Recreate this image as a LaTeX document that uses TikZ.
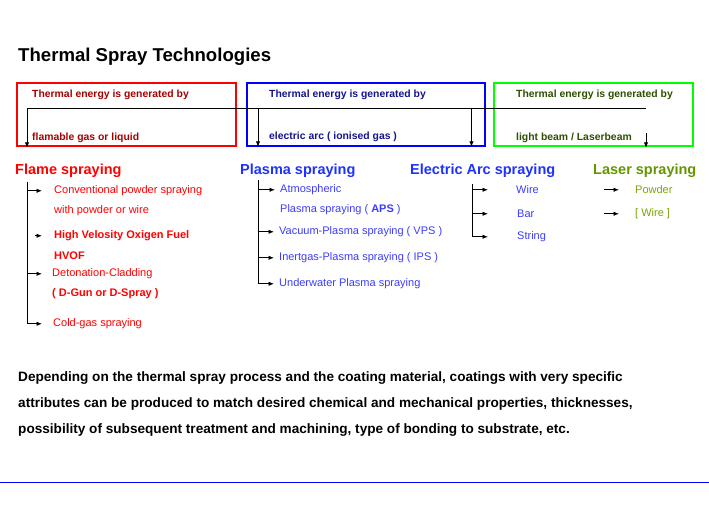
\documentclass[tikz,border=0pt]{standalone}
\usepackage{fontspec}
\setmainfont{Liberation Sans}
\usetikzlibrary{arrows.meta}
\definecolor{fred}{RGB}{255,0,0}
\definecolor{fblue}{RGB}{0,0,255}
\definecolor{fgreen}{RGB}{0,255,0}
\definecolor{tred}{RGB}{165,0,0}
\definecolor{tblue}{RGB}{20,20,140}
\definecolor{tgreen}{RGB}{45,80,0}
\definecolor{hblue}{RGB}{30,50,255}
\definecolor{iblue}{RGB}{60,60,255}
\definecolor{hgreen}{RGB}{100,150,0}
\definecolor{igreen}{RGB}{120,165,10}
\begin{document}
\begin{tikzpicture}[x=1pt,y=-1pt,
  every node/.style={inner sep=0pt, anchor=west, yshift=-1.8pt},
  title/.style={font=\fontsize{18.6}{20}\selectfont\bfseries},
  boxtxt/.style={font=\fontsize{10.4}{12}\selectfont\bfseries},
  head/.style={font=\fontsize{14.5}{16}\selectfont\bfseries},
  item/.style={font=\fontsize{11}{13}\selectfont},
  para/.style={font=\fontsize{13.6}{16}\selectfont\bfseries},
  arr/.style={-{Latex[length=5.5pt,width=4.5pt]}, line width=0.9pt, black},
  frame/.style={line width=2pt}]
\useasboundingbox (0,0) rectangle (709,510);

% title
\node[title] (title) at (18,55) {Thermal Spray Technologies};

% boxes
\draw[frame, fred] (17,83) rectangle (236,146);
\draw[frame, fblue] (247,83) rectangle (485,146);
\draw[frame, fgreen] (494,83) rectangle (693,146);

\node[boxtxt, tred] (r1) at (32,93) {Thermal energy is generated by};
\node[boxtxt, tred] (r2) at (32,136) {flamable gas or liquid};
\node[boxtxt, tblue] (b1) at (269,93) {Thermal energy is generated by};
\node[boxtxt, tblue] (b2) at (269,135) {electric arc ( ionised gas )};
\node[boxtxt, tgreen] (g1) at (516,93) {Thermal energy is generated by};
\node[boxtxt, tgreen] (g2) at (516,136) {light beam / Laserbeam};

% energy line and arrows
\coordinate (hl) at (27,107);
\coordinate (hr) at (646,107);
\coordinate (ra) at (27,146);
\coordinate (bla) at (258,107);
\coordinate (blb) at (258,145);
\coordinate (bra) at (471.5,107);
\coordinate (brb) at (471.5,145);
\coordinate (gra) at (646,131);
\coordinate (grb) at (646,146);
\draw[line width=0.9pt] (hl) -- (hr);
\draw[arr] (hl) -- (ra);
\draw[arr] (bla) -- (blb);
\draw[arr] (bra) -- (brb);
\draw[arr] (gra) -- (grb);

% headings
\node[head, fred] (flame) at (15,169) {Flame spraying};
\node[head, hblue] (plasma) at (240,169) {Plasma spraying};
\node[head, hblue] (arc) at (410,169) {Electric Arc spraying};
\node[head, hgreen] (laser) at (593,169) {Laser spraying};

% flame items
\node[item, fred] (f1) at (54,189) {Conventional powder spraying};
\node[item, fred] (f1b) at (54,209) {with powder or wire};
\node[item, fred, font=\fontsize{11}{13}\selectfont\bfseries] (f2) at (54,234) {High Velosity Oxigen Fuel};
\node[item, fred, font=\fontsize{11}{13}\selectfont\bfseries] (f2b) at (54,254) {HVOF};
\node[item, fred] (f3) at (52,272) {Detonation-Cladding};
\node[item, fred, font=\fontsize{11}{13}\selectfont\bfseries] (f3b) at (52,292) {( D-Gun or D-Spray )};
\node[item, fred] (f4) at (53,322) {Cold-gas spraying};

\coordinate (ft) at (27,180);
\draw[arr] (ft) |- ([xshift=-12]f1.west);
\draw[arr] ([xshift=-19]f2.west) -- ([xshift=-12]f2.west);
\draw[arr] (ft) |- ([xshift=-10]f3.west);
\draw[arr] (ft) |- ([xshift=-11]f4.west);

% plasma items
\node[item, iblue] (p1) at (280,188) {Atmospheric};
\node[item, iblue] (p1b) at (280,208) {Plasma spraying ( \textbf{APS} )};
\node[item, iblue] (p2) at (279,230) {Vacuum-Plasma spraying ( VPS )};
\node[item, iblue] (p3) at (279,256) {Inertgas-Plasma spraying ( IPS )};
\node[item, iblue] (p4) at (279,282) {Underwater Plasma spraying};

\coordinate (pt) at (258,178);
\draw[arr] (pt) |- ([xshift=-5]p1.west);
\draw[arr] (pt) |- ([xshift=-5]p2.west);
\draw[arr] (pt) |- ([xshift=-5]p3.west);
\draw[arr] (pt) |- ([xshift=-5]p4.west);

% arc items
\node[item, iblue] (a1) at (516,188) {Wire};
\node[item, iblue] (a2) at (517,212) {Bar};
\node[item, iblue] (a3) at (517,235) {String};

\coordinate (at) at (472,182);
\draw[arr] (at) |- ([xshift=-28]a1.west);
\draw[arr] (at) |- ([xshift=-29]a2.west);
\draw[arr] (at) |- ([xshift=-29]a3.west);

% laser items
\node[item, igreen] (l1) at (635,188) {Powder};
\node[item, igreen] (l2) at (635,212) {[ Wire ]};
\draw[arr] ([xshift=-31]l1.west) -- ([xshift=-16]l1.west);
\draw[arr] ([xshift=-31]l2.west) -- ([xshift=-16]l2.west);

% paragraph
\node[para] (t1) at (18,376) {Depending on the thermal spray process and the coating material, coatings with very specific};
\node[para] (t2) at (18,402) {attributes can be produced to match desired chemical and mechanical properties, thicknesses,};
\node[para] (t3) at (18,428) {possibility of subsequent treatment and machining, type of bonding to substrate, etc.};

% bottom rule
\draw[fblue, line width=1pt] (0,482) -- (709,482);
\end{tikzpicture}
\end{document}
